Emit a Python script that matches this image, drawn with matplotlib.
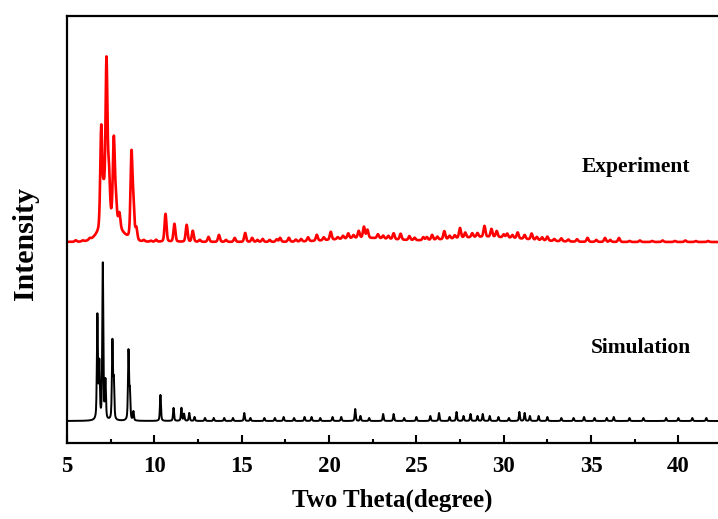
import numpy as np
import matplotlib
matplotlib.use("Agg")
import matplotlib.pyplot as plt
from matplotlib.ticker import MultipleLocator

plt.rcParams['font.family'] = ['Liberation Serif', 'DejaVu Serif']
plt.rcParams['font.weight'] = 'bold'

# Simulated pattern: peak positions (2theta, deg) and relative heights
sim_pos = [6.74, 6.85, 7.05, 7.2, 7.6, 7.68, 8.52, 8.6, 8.8, 10.35, 11.1, 11.55,
           11.7, 12.0, 12.3, 12.9, 13.4, 14.0, 14.5, 15.15, 15.5, 16.3, 16.9,
           17.4, 18.0, 18.6, 19.0, 19.5, 20.2, 20.7, 21.5, 21.8, 22.3, 23.1,
           23.7, 24.3, 25.0, 25.8, 26.3, 26.9, 27.3, 27.7, 28.1, 28.5, 28.8,
           29.2, 29.7, 30.3, 30.9, 31.2, 31.5, 32.0, 32.5, 33.3, 34.0, 34.6,
           35.2, 35.9, 36.3, 37.2, 38.0, 39.3, 40.0, 40.8, 41.6]
sim_int = [104, 55, 156, 38, 78, 38, 69, 28, 9, 26, 13, 13,
           7, 8, 4, 3, 3, 3, 3, 8, 3, 3, 3,
           4, 3, 4, 4, 3, 4, 4, 12, 5, 3, 7,
           7, 3, 4, 5, 8, 4, 9, 5, 7, 5, 7,
           5, 4, 3, 9, 8, 5, 5, 4, 3, 3, 4,
           3, 3, 4, 3, 3, 3, 3, 3, 3]

# Measured pattern: reflections (incl. weak ones) plus broad background humps
exp_pos = [6.96, 7.1, 7.26, 7.4, 7.68, 7.8, 8.0, 8.69, 8.8, 8.97, 10.64, 11.15,
           11.85, 12.2, 13.1, 13.7, 14.6, 15.2, 15.6, 16.2, 17.2, 17.7, 18.8,
           19.3, 20.1, 21.1, 21.7, 22.0, 22.2, 22.8, 23.7, 24.1, 24.6, 25.4,
           25.9, 26.6, 27.5, 27.8, 28.9, 29.3, 29.6, 30.2, 30.8, 31.6, 32.5,
           33.3, 34.8, 35.8, 36.6,
           5.5, 5.9, 6.3, 9.4, 9.8, 10.1, 12.6, 14.1, 15.9, 16.6, 17.0, 18.1,
           18.4, 19.7, 20.5, 20.8, 21.4, 23.1, 23.4, 24.9, 25.6, 26.2, 26.9,
           27.2, 28.2, 28.5, 30.0, 30.5, 31.2, 31.9, 32.2, 32.9, 33.7, 34.2,
           35.3, 36.1, 37.2, 37.8, 38.5, 39.1, 39.8, 40.4, 41.0, 41.7]
exp_int = [100, 30, 160, 45, 82, 22, 14, 84, 32, 12, 28, 18,
           17, 11, 5, 7, 4, 9, 4, 3, 4, 4, 4,
           6, 8, 5, 7, 11, 8, 4, 6, 6, 4, 3,
           5, 8, 10, 5, 11, 8, 6, 4, 6, 6, 4,
           3, 4, 4, 4,
           1.5, 1, 1.5, 1.5, 1, 2, 2, 2, 2, 2, 2.5, 2,
           2.5, 3, 2, 3, 3, 3, 3, 2.5, 3, 3, 3,
           3, 4, 4, 3, 3, 4, 3, 3, 2, 2, 2.5,
           2, 2, 1, 1.5, 1, 1.5, 1, 1.5, 1, 1]
hump_pos = [7.5, 22.0, 29.0]
hump_int = [20, 4, 5]
hump_fwhm = [1.3, 4.0, 5.0]

sim_offset = 22
exp_offset = 201


def pseudo_voigt(x, c, h, w, eta=0.5):
    g = np.exp(-4 * np.log(2) * ((x - c) / w) ** 2)
    l = 1.0 / (1.0 + 4 * ((x - c) / w) ** 2)
    return h * (eta * l + (1 - eta) * g)


x = np.arange(5.0, 42.4, 0.01)
y_sim = np.full_like(x, sim_offset, dtype=float)
for c, h in zip(sim_pos, sim_int):
    y_sim += pseudo_voigt(x, c, h, 0.07)

y_exp = np.full_like(x, exp_offset, dtype=float)
for c, h in zip(exp_pos, exp_int):
    y_exp += pseudo_voigt(x, c, h, 0.13, eta=0.3)
for c, h, w in zip(hump_pos, hump_int, hump_fwhm):
    y_exp += pseudo_voigt(x, c, h, w, eta=0.0)

fig = plt.figure(figsize=(7.18, 5.19), dpi=100)
ax = fig.add_axes([67 / 718, 1 - 443 / 519, 1 - 67 / 718, (443 - 16) / 519])

ax.plot(x, y_exp, color='#ff0000', lw=1.9)
ax.plot(x, y_sim, color='black', lw=1.4)

ax.set_xlim(5, 42.27)
ax.set_ylim(0, 427)

for s in ['left', 'bottom', 'top']:
    ax.spines[s].set_linewidth(1.6)
ax.spines['right'].set_visible(False)

ax.xaxis.set_major_locator(MultipleLocator(5))
ax.xaxis.set_minor_locator(MultipleLocator(2.5))
ax.tick_params(axis='x', which='major', direction='in', length=6, width=1.5,
               labelsize=16.5, pad=9)
ax.tick_params(axis='x', which='minor', direction='in', length=3, width=1.5)
ax.set_yticks([])
for lab in ax.get_xticklabels():
    lab.set_fontweight('bold')

ax.set_xlabel('Two Theta(degree)', fontsize=18, fontweight='bold', labelpad=9)
ax.set_ylabel('Intensity', fontsize=21.5, fontweight='bold')
ax.yaxis.set_label_coords(-0.0645, 0.468)
ax.yaxis.label.set_verticalalignment('center')

ax.text(37.6, 444 - 168, 'Experiment', fontsize=15.5, fontweight='bold',
        ha='center', va='center')
ax.text(37.85, 444 - 349, 'Simulation', fontsize=15.5, fontweight='bold',
        ha='center', va='center')

fig.savefig('out.png', dpi=100)
